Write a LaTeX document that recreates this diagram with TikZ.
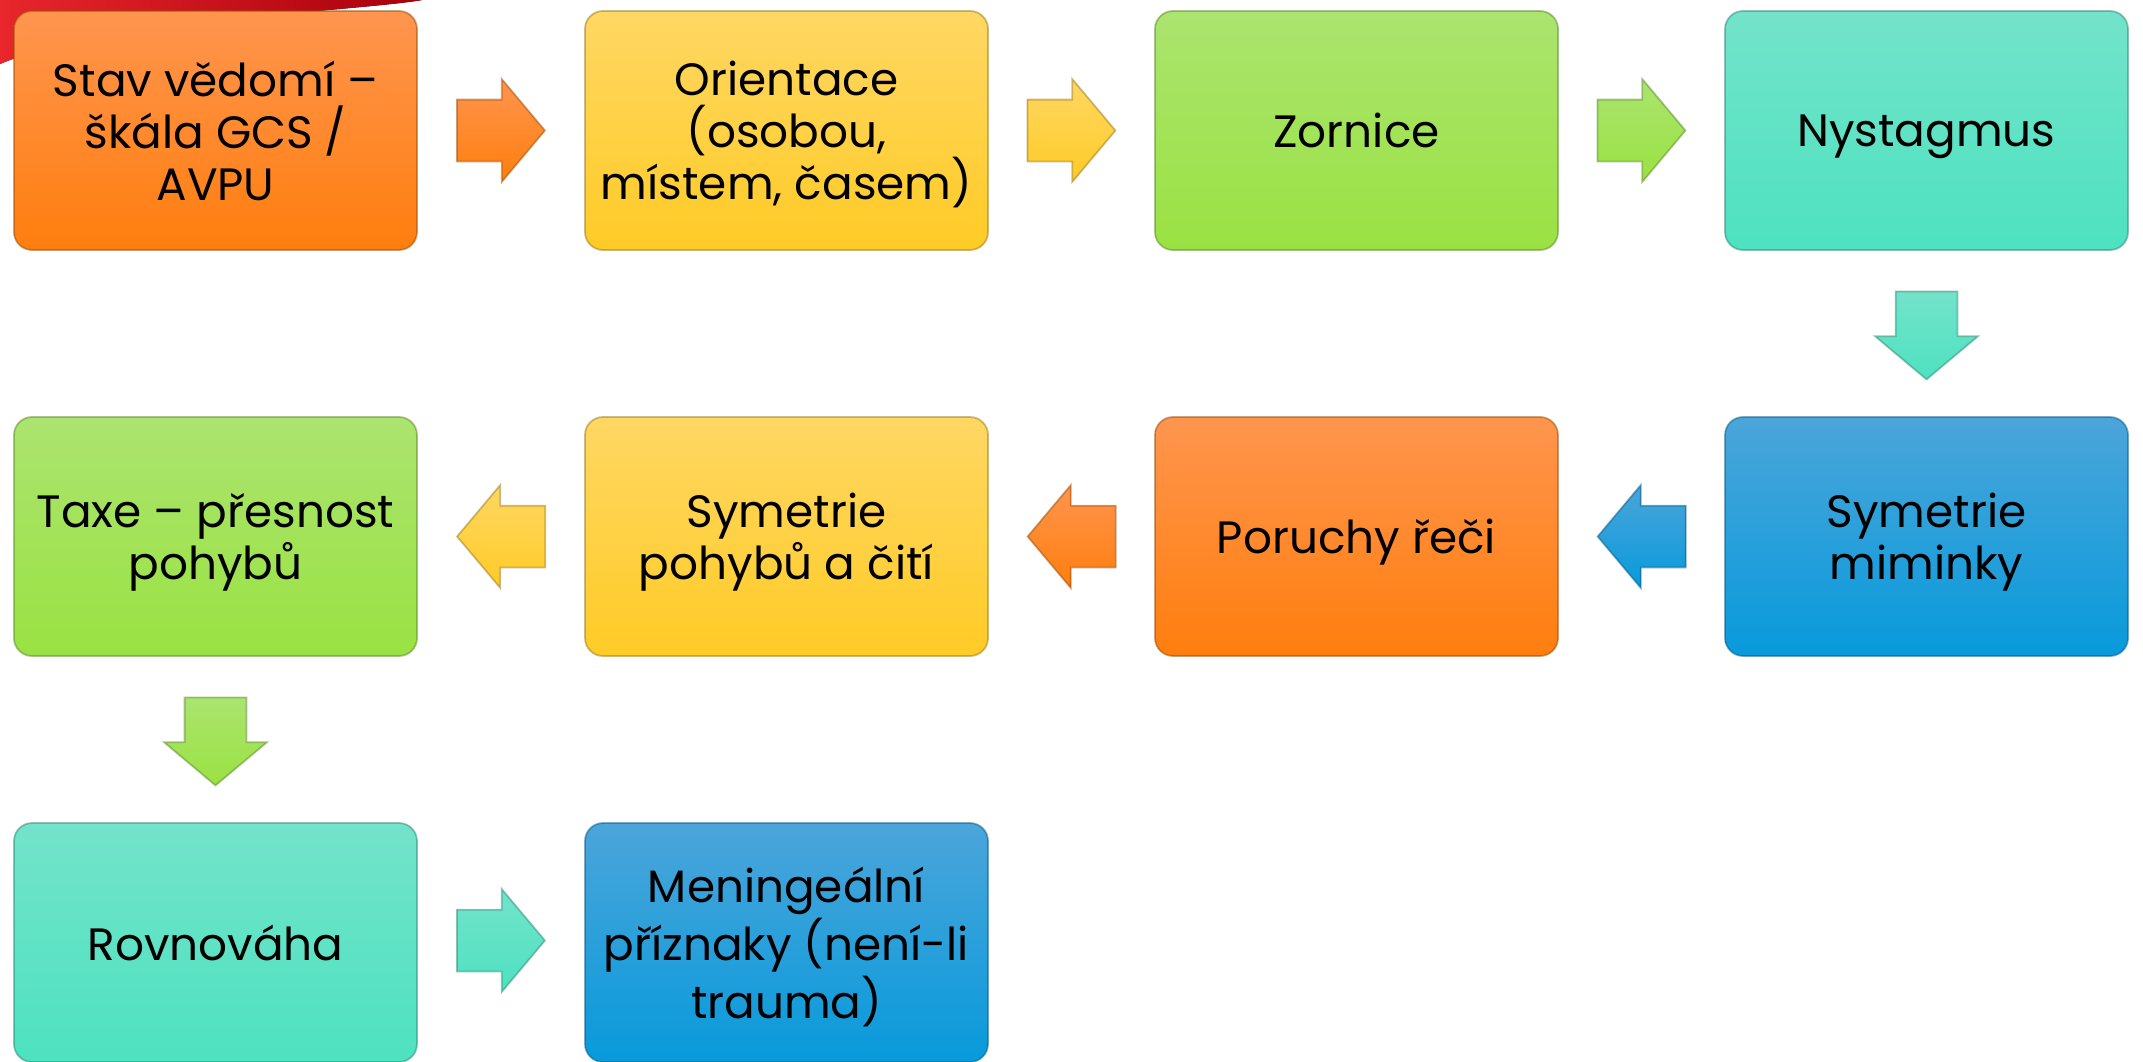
\documentclass[tikz,border=0pt]{standalone}
\usepackage{fontspec}
\setmainfont{Poppins}
\usetikzlibrary{shapes.arrows, calc}

\definecolor{oraTop}{HTML}{FF954E}
\definecolor{oraBot}{HTML}{FF7E0E}
\definecolor{yelTop}{HTML}{FFD763}
\definecolor{yelBot}{HTML}{FFCB26}
\definecolor{grnTop}{HTML}{ABE46F}
\definecolor{grnBot}{HTML}{9AE242}
\definecolor{tyrTop}{HTML}{73E3CA}
\definecolor{tyrBot}{HTML}{4DE2C0}
\definecolor{bluTop}{HTML}{4BA5DA}
\definecolor{bluBot}{HTML}{089ADB}
\definecolor{redL}{HTML}{E8262C}
\definecolor{redR}{HTML}{A8000C}

\begin{document}
\begin{tikzpicture}
\tikzstyle{every node}=[font=\fontsize{12.9pt}{14.8pt}\selectfont, align=center]
\tikzstyle{box}=[rounded corners=0.18cm, minimum width=4.03cm, minimum height=2.39cm, inner sep=0pt, text depth=0pt]
\tikzstyle{sipka}=[single arrow, minimum height=0.88cm, inner xsep=0pt, inner ysep=0.3cm,
    single arrow head extend=0.205cm, single arrow tip angle=100, anchor=tail]
\tikzstyle{sipkadolu}=[sipka, shape border rotate=270, inner xsep=0.3cm, inner ysep=0pt]
\tikzstyle{oranzova}=[top color=oraTop, bottom color=oraBot, draw=oraBot!60!black, draw opacity=0.5, line width=0.5pt]
\tikzstyle{zluta}=[top color=yelTop, bottom color=yelBot, draw=yelBot!60!black, draw opacity=0.5, line width=0.5pt]
\tikzstyle{zelena}=[top color=grnTop, bottom color=grnBot, draw=grnBot!60!black, draw opacity=0.5, line width=0.5pt]
\tikzstyle{tyrkys}=[top color=tyrTop, bottom color=tyrBot, draw=tyrBot!60!black, draw opacity=0.5, line width=0.5pt]
\tikzstyle{modra}=[top color=bluTop, bottom color=bluBot, draw=bluBot!60!black, draw opacity=0.5, line width=0.5pt]

\useasboundingbox (0, 0) rectangle (21.43, 10.61);

% red band behind the first box
\fill[left color=redL, right color=redR] (0, 10.61) -- (4.22, 10.61)
    .. controls (3.6, 10.5) and (1.0, 10.4) .. (0, 9.97) -- cycle;

% row 1
\node[box, oranzova] (gcs) at (2.155, 9.305) {Stav vědomí –\\ škála GCS /\\ AVPU};
\node[box, zluta] (orient) at (7.865, 9.305) {Orientace\\ (osobou,\\ místem, časem)};
\node[box, zelena] (zornice) at (13.565, 9.305) {Zornice};
\node[box, tyrkys] (nystag) at (19.265, 9.305) {Nystagmus};

% row 2
\node[box, modra] (mimika) at (19.265, 5.245) {Symetrie\\ miminky};
\node[box, oranzova] (rec) at (13.565, 5.245) {Poruchy řeči};
\node[box, zluta] (pohyby) at (7.865, 5.245) {Symetrie\\ pohybů a čití};
\node[box, zelena] (taxe) at (2.155, 5.245) {Taxe – přesnost\\ pohybů};

% row 3
\node[box, tyrkys] (rovnovaha) at (2.155, 1.185) {Rovnováha};
\node[box, modra] (mening) at (7.865, 1.185) {Meningeální\\ příznaky (není-li\\ trauma)};

% arrows
\node[sipka, oranzova] at ($(gcs)!0.5!(orient) + (-0.45, 0)$) {};
\node[sipka, zluta] at ($(orient)!0.5!(zornice) + (-0.45, 0)$) {};
\node[sipka, zelena] at ($(zornice)!0.5!(nystag) + (-0.45, 0)$) {};
\node[sipkadolu, tyrkys] at ($(nystag)!0.5!(mimika) + (0, 0.43)$) {};
\node[sipka, modra, shape border rotate=180] at ($(mimika)!0.5!(rec) + (0.45, 0)$) {};
\node[sipka, oranzova, shape border rotate=180] at ($(rec)!0.5!(pohyby) + (0.45, 0)$) {};
\node[sipka, zluta, shape border rotate=180] at ($(pohyby)!0.5!(taxe) + (0.45, 0)$) {};
\node[sipkadolu, zelena] at ($(taxe)!0.5!(rovnovaha) + (0, 0.43)$) {};
\node[sipka, tyrkys] at ($(rovnovaha)!0.5!(mening) + (-0.45, 0.02)$) {};

\end{tikzpicture}
\end{document}
